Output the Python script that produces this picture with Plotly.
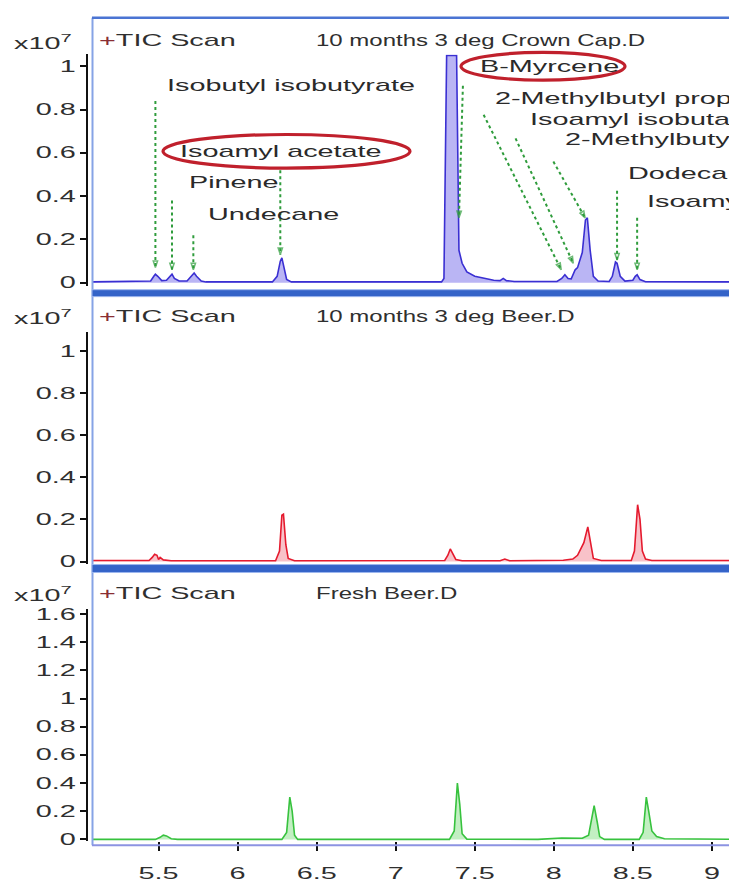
import plotly.graph_objects as go

W, H = 729, 882

# ---- TIC traces: retention time (min) vs abundance (x10^7 counts) ----
crown_rt = [5.08, 5.40, 5.45, 5.47, 5.48, 5.495, 5.52, 5.55, 5.575, 5.585, 5.60, 5.63,
            5.68, 5.71, 5.725, 5.74, 5.77, 5.80, 6.22, 6.25, 6.27, 6.28, 6.295, 6.31,
            6.34, 7.29, 7.305, 7.312, 7.322, 7.385, 7.392, 7.40, 7.42, 7.45, 7.50, 7.56,
            7.62, 7.66, 7.68, 7.70, 7.75, 8.02, 8.05, 8.07, 8.09, 8.11, 8.135,
            8.15, 8.18, 8.20, 8.212, 8.23, 8.25, 8.28, 8.35, 8.37, 8.39, 8.40, 8.42,
            8.45, 8.50, 8.515, 8.527, 8.545, 8.58, 9.20]
crown_abund = [0.004, 0.005, 0.008, 0.03, 0.04, 0.03, 0.01, 0.012, 0.035, 0.04, 0.02, 0.008,
               0.008, 0.03, 0.045, 0.03, 0.008, 0.004, 0.004, 0.03, 0.10, 0.115, 0.07, 0.015,
               0.004, 0.004, 0.02, 0.60, 1.05, 1.05, 0.50, 0.15, 0.09, 0.05, 0.03, 0.02,
               0.012, 0.01, 0.02, 0.01, 0.006, 0.006, 0.02, 0.037, 0.02, 0.018, 0.06,
               0.07, 0.14, 0.29, 0.30, 0.15, 0.03, 0.008, 0.006, 0.03, 0.096, 0.09, 0.03,
               0.008, 0.012, 0.03, 0.037, 0.015, 0.005, 0.004]

aged_rt = [5.08, 5.44, 5.46, 5.475, 5.49, 5.50, 5.51, 5.53, 5.58, 6.24, 6.265, 6.28,
           6.29, 6.305, 6.32, 6.36, 7.31, 7.33, 7.345, 7.36, 7.38, 7.42, 7.66, 7.69,
           7.72, 8.06, 8.12, 8.15, 8.19, 8.215, 8.235, 8.25, 8.30, 8.49, 8.51, 8.53,
           8.545, 8.56, 8.58, 8.62, 9.20]
aged_abund = [0.005, 0.005, 0.02, 0.035, 0.03, 0.01, 0.02, 0.008, 0.004, 0.004, 0.05, 0.22,
              0.225, 0.08, 0.015, 0.004, 0.005, 0.03, 0.06, 0.04, 0.01, 0.004, 0.004, 0.012,
              0.004, 0.006, 0.012, 0.03, 0.09, 0.165, 0.08, 0.015, 0.005, 0.005, 0.05, 0.27,
              0.20, 0.05, 0.012, 0.005, 0.005]

fresh_rt = [5.08, 5.48, 5.51, 5.53, 5.55, 5.58, 5.62, 6.28, 6.31, 6.33, 6.345, 6.36,
            6.38, 7.34, 7.37, 7.39, 7.405, 7.42, 7.45, 7.90, 8.05, 8.18, 8.22, 8.255,
            8.275, 8.29, 8.32, 8.54, 8.565, 8.585, 8.60, 8.62, 8.65, 8.70, 9.20]
fresh_abund = [0.0, 0.0, 0.015, 0.03, 0.025, 0.005, 0.0, 0.0, 0.05, 0.30, 0.20, 0.03,
               0.0, 0.0, 0.06, 0.40, 0.25, 0.04, 0.002, 0.0, 0.01, 0.008, 0.03, 0.24,
               0.12, 0.02, 0.0, 0.0, 0.05, 0.30, 0.20, 0.06, 0.02, 0.005, 0.0]

x_ticks = [5.5, 6, 6.5, 7, 7.5, 8, 8.5, 9]
x_tick_text = ["5.5", "6", "6.5", "7", "7.5", "8", "8.5", "9"]
y_ticks_aged = [0, 0.2, 0.4, 0.6, 0.8, 1]
y_tick_text_aged = ["0", "0.2", "0.4", "0.6", "0.8", "1"]
y_ticks_fresh = [0, 0.2, 0.4, 0.6, 0.8, 1, 1.2, 1.4, 1.6]
y_tick_text_fresh = ["0", "0.2", "0.4", "0.6", "0.8", "1", "1.2", "1.4", "1.6"]

file_names = ["10 months 3 deg Crown Cap.D", "10 months 3 deg Beer.D", "Fresh Beer.D"]

# compound names as printed in the report (the right-hand ones run off the window)
compounds = ["Isobutyl isobutyrate", "Isoamyl acetate", "Pinene", "Undecane", "B-Myrcene",
             "2-Methylbutyl prop", "Isoamyl isobuta", "2-Methylbuty",
             "Dodeca", "Isoamy"]

# ---- layout geometry (pixels) ----
FONT = "Liberation Sans, Arial, sans-serif"
TXT = "#2f2f2f"
X_LEFT = 92
X_RANGE = [5.079, 9.108]
AXIS_X = 87

# label anchor (left px, centre px) for each compound name
label_pos = [(165, 83), (178, 150), (187, 182), (206, 214), (478, 64),
             (493, 97), (528, 118), (563, 138), (626, 172), (645, 201)]
# dotted callout lines in data units of the top panel: (rt0, y0, rt1, y1)
callouts = [(5.48, 0.84, 5.48, 0.07), (5.585, 0.38, 5.585, 0.06), (5.72, 0.22, 5.72, 0.06),
            (6.27, 0.52, 6.27, 0.13), (7.425, 0.91, 7.40, 0.30), (7.556, 0.776, 8.047, 0.06),
            (7.758, 0.667, 8.123, 0.09), (7.997, 0.56, 8.198, 0.30), (8.40, 0.425, 8.40, 0.105),
            (8.527, 0.30, 8.527, 0.06)]
ellipses = [(163, 133, 410, 167), (461, 50, 625, 78)]

# panel: (y-domain top px, bottom px, y-range, header centre px)
panels = [
    (52, 286, [-0.0137, 1.0548], 39),
    (333, 567, [-0.0094, 1.089], 318),
    (613, 848, [-0.014, 1.635], 598),
]


def px(x):
    return x / W


def py(y):
    return 1 - y / H


fig = go.Figure()

series = [
    (crown_rt, crown_abund, "#3a2fd2", "rgba(130,120,235,0.55)"),
    (aged_rt, aged_abund, "#e51a2e", "rgba(240,120,135,0.45)"),
    (fresh_rt, fresh_abund, "#37c23e", "rgba(120,220,120,0.45)"),
]
for i, (rt, ab, lc, fc) in enumerate(series):
    sfx = "" if i == 0 else str(i + 1)
    fig.add_trace(go.Scatter(x=rt, y=ab, mode="lines", fill="tozeroy",
                             line=dict(color=lc, width=1.6), fillcolor=fc,
                             xaxis="x" + sfx, yaxis="y" + sfx, hoverinfo="skip"))

for (x0, y0, x1, y1) in callouts:
    fig.add_trace(go.Scatter(x=[x0, x1], y=[y0, y1], mode="lines+markers",
                             line=dict(color="#2f9c3c", width=2, dash="dot"),
                             marker=dict(symbol="arrow-open", angleref="previous",
                                         size=[0, 7], color="#2f9c3c",
                                         line=dict(color="#2f9c3c", width=1.5)),
                             xaxis="x", yaxis="y", hoverinfo="skip"))

layout = dict(width=W, height=H, autosize=False, margin=dict(l=0, r=0, t=0, b=0),
              paper_bgcolor="white", plot_bgcolor="rgba(0,0,0,0)", showlegend=False,
              font=dict(family=FONT, size=16, color=TXT))

for i, (top, bot, yr, hy) in enumerate(panels):
    sfx = "" if i == 0 else str(i + 1)
    last = i == 2
    layout["xaxis" + sfx] = dict(
        domain=[px(X_LEFT), 1], range=X_RANGE, anchor="y" + sfx,
        showgrid=False, zeroline=False, showline=False,
        showticklabels=last, ticks="outside" if last else "",
        tickvals=x_ticks, ticktext=x_tick_text, ticklen=9, tickwidth=2, tickcolor="#111",
        ticklabelstandoff=8,
        tickfont=dict(family=FONT, size=16, color=TXT),
        matches=None if i == 0 else "x")
    tv, tt = (y_ticks_fresh, y_tick_text_fresh) if last else (y_ticks_aged, y_tick_text_aged)
    layout["yaxis" + sfx] = dict(
        domain=[py(bot), py(top)], range=yr, anchor="free", position=px(AXIS_X),
        showgrid=False, zeroline=False, showline=True, linecolor="#111", linewidth=2,
        ticks="outside", ticklen=6, tickwidth=1.5, tickcolor="#111",
        tickvals=tv, ticktext=tt, ticklabelstandoff=1,
        tickfont=dict(family=FONT, size=16, color=TXT))

fig.update_layout(**layout)

annotations = []
for i, (top, bot, yr, hy) in enumerate(panels):
    annotations.append(dict(x=px(12), y=py(hy), xref="paper", yref="paper", xanchor="left",
                            yanchor="middle", align="left", showarrow=False,
                            text="x10<sup>7</sup>", font=dict(size=16, color=TXT)))
    annotations.append(dict(x=px(97), y=py(hy - 1), xref="paper", yref="paper", xanchor="left",
                            yanchor="middle", align="left", showarrow=False,
                            text="<span style='color:#8a2e34'>+</span>TIC Scan",
                            font=dict(size=16, color=TXT)))
    annotations.append(dict(x=px(314), y=py(hy - 1), xref="paper", yref="paper", xanchor="left",
                            yanchor="middle", align="left", showarrow=False,
                            text=file_names[i], font=dict(size=16, color=TXT)))

for name, (lx, ly) in zip(compounds, label_pos):
    annotations.append(dict(x=px(lx), y=py(ly), xref="paper", yref="paper", xanchor="left",
                            yanchor="middle", align="left", showarrow=False,
                            text=name, font=dict(size=16, color="#2a2a2a")))

shapes = []
# panel frames
shapes.append(dict(type="line", xref="paper", yref="paper", x0=px(X_LEFT + 0.5), x1=px(X_LEFT + 0.5),
                   y0=py(15), y1=py(852), line=dict(color="#86a3e6", width=2)))
shapes.append(dict(type="line", xref="paper", yref="paper", x0=px(X_LEFT), x1=1.01,
                   y0=py(15), y1=py(15), line=dict(color="#4b74d3", width=2.5)))
for (b0, b1) in [(290, 297), (568, 576)]:
    shapes.append(dict(type="rect", xref="paper", yref="paper", x0=px(X_LEFT), x1=1.01,
                       y0=py(b1), y1=py(b0), fillcolor="#3463c8",
                       line=dict(color="#9db6ee", width=1)))
shapes.append(dict(type="line", xref="paper", yref="paper", x0=px(X_LEFT), x1=1.01,
                   y0=py(852), y1=py(852), line=dict(color="#8c93e2", width=2)))
# circled compound names
for (ex0, ey0, ex1, ey1) in ellipses:
    shapes.append(dict(type="circle", xref="paper", yref="paper", x0=px(ex0), x1=px(ex1),
                       y0=py(ey1), y1=py(ey0), line=dict(color="#c0202c", width=3.2)))

fig.update_layout(annotations=annotations, shapes=shapes)

# Widen the glyphs horizontally: instrument-report text is drawn with a broad face.
stretch_js = """
var gd = document.getElementById('{plot_id}');
function widenText(){
  gd.querySelectorAll('svg text').forEach(function(t){
    if (t.getAttribute('data-sx')) return;
    var s = t.textContent || '';
    if (!s.trim()) return;
    var k = (s.indexOf('months') >= 0 || s.indexOf('Fresh') >= 0) ? 1.5 : 1.8;
    var x = parseFloat(t.getAttribute('x')) || 0;
    var base = t.getAttribute('transform') || '';
    t.setAttribute('transform', base + ' translate(' + x + ',0) scale(' + k + ',1) translate(' + (-x) + ',0)');
    t.setAttribute('data-sx', k);
  });
}
widenText();
gd.on('plotly_afterplot', widenText);
"""

fig.write_html("out.html", config={"displayModeBar": False, "responsive": False},
               post_script=stretch_js)
